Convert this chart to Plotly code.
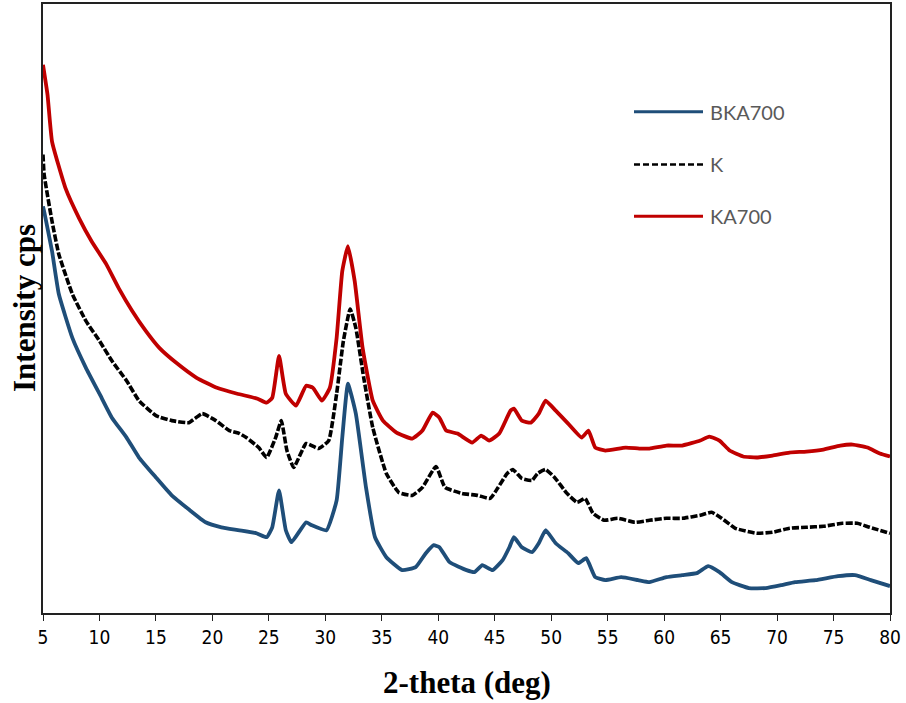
import plotly.graph_objects as go

# ---------------- data ----------------
ka700_deg = [5.0, 5.4, 5.8, 7.0, 8.2, 9.3, 10.6, 11.7, 12.9, 14.1, 15.3, 16.8, 18.6, 20.4, 22.2,
             24.0, 24.8, 25.3, 25.9, 26.5, 27.4, 28.3, 28.9, 29.7, 30.4, 31.0, 31.5, 32.0, 32.6, 33.3,
             34.2, 35.1, 36.3, 37.7, 38.6, 39.5, 40.1, 40.7, 41.7, 43.0, 43.8, 44.5, 45.4, 46.4, 46.7,
             47.4, 48.2, 48.9, 49.5, 50.4, 51.5, 52.7, 53.3, 53.9, 54.8, 56.6, 57.8, 58.7, 60.2, 61.6,
             63.2, 64.0, 64.9, 65.8, 67.0, 68.2, 69.6, 71.1, 72.6, 74.1, 75.6, 76.7, 78.0, 79.1, 80.0]
ka700_int = [550, 520, 473, 426, 396, 373, 350, 326, 303, 283, 266, 251, 236, 226, 220,
             215, 211, 216, 258, 220, 208, 228, 226, 213, 226, 276, 343, 368, 333, 266,
             213, 193, 181, 175, 183, 201, 196, 183, 180, 171, 178, 173, 180, 203, 205,
             193, 191, 200, 213, 203, 190, 176, 183, 166, 163, 166, 165, 165, 168, 168,
             173, 177, 173, 163, 157, 156, 158, 161, 162, 164, 168, 169, 166, 160, 157]

k_deg = [5.0, 5.1, 5.8, 6.4, 7.6, 8.8, 10.0, 11.1, 12.4, 13.5, 15.0, 16.4, 17.9, 19.1, 20.3,
         21.5, 22.4, 23.0, 24.1, 24.8, 25.6, 26.1, 26.6, 27.2, 28.3, 29.4, 30.3, 31.0, 31.6, 32.2,
         32.7, 33.4, 34.2, 35.4, 36.5, 37.7, 38.6, 39.8, 40.6, 42.1, 43.5, 44.6, 45.3, 46.1, 46.6,
         47.4, 48.3, 48.8, 49.5, 50.3, 51.4, 52.3, 53.0, 53.7, 54.7, 55.9, 57.4, 58.7, 60.2, 61.6,
         63.2, 64.2, 65.1, 66.3, 68.2, 69.6, 71.1, 72.6, 74.1, 75.8, 77.1, 78.2, 80.0]
k_int = [460, 440, 393, 360, 320, 293, 273, 253, 233, 213, 198, 193, 191, 200, 193,
         183, 180, 176, 166, 156, 176, 193, 163, 146, 170, 165, 173, 220, 273, 305,
         286, 236, 186, 140, 121, 118, 126, 147, 126, 120, 118, 115, 126, 140, 144,
         135, 133, 140, 144, 136, 120, 111, 115, 100, 93, 95, 91, 93, 95, 95,
         98, 101, 95, 85, 80, 81, 85, 86, 87, 90, 90, 86, 80]

bka700_deg = [5.0, 5.1, 5.8, 6.4, 7.6, 8.8, 10.0, 11.1, 12.4, 13.5, 15.0, 16.4, 17.9, 19.4, 20.8,
              22.4, 23.9, 24.8, 25.3, 25.9, 26.5, 27.0, 28.3, 28.8, 30.1, 31.0, 31.5, 32.0, 32.7, 33.6,
              34.4, 35.4, 36.8, 38.0, 38.9, 39.6, 40.1, 41.0, 42.5, 43.2, 43.9, 44.8, 45.7, 46.3, 46.7,
              47.4, 48.3, 48.9, 49.5, 50.4, 51.5, 52.4, 53.1, 53.9, 54.8, 56.2, 57.7, 58.7, 60.2, 61.6,
              62.9, 63.9, 64.9, 66.0, 67.5, 69.0, 70.4, 71.6, 73.4, 75.4, 76.9, 78.3, 80.0]
bka700_int = [408, 403, 363, 320, 276, 246, 220, 196, 176, 156, 136, 118, 104, 91, 86,
              83, 80, 76, 86, 123, 83, 71, 91, 88, 83, 113, 176, 230, 200, 126,
              76, 56, 43, 46, 60, 68, 66, 51, 43, 41, 48, 43, 53, 66, 76,
              66, 61, 70, 83, 70, 60, 50, 55, 36, 33, 36, 33, 31, 36, 38,
              40, 47, 41, 31, 25, 25, 28, 31, 33, 37, 38, 33, 27]

x_ticks = [5, 10, 15, 20, 25, 30, 35, 40, 45, 50, 55, 60, 65, 70, 75, 80]
series_names = ["BKA700", "K", "KA700"]

# ---------------- figure ----------------
BLUE = "#1F4E79"
RED = "#C00000"
BLACK = "#000000"

fig = go.Figure()
fig.add_trace(go.Scatter(x=bka700_deg, y=bka700_int, mode="lines", name=series_names[0],
                         line=dict(color=BLUE, width=3.8, shape="spline", smoothing=0.4),
                         showlegend=False))
fig.add_trace(go.Scatter(x=k_deg, y=k_int, mode="lines", name=series_names[1],
                         line=dict(color=BLACK, width=3.6, dash="7px,2px", shape="spline", smoothing=0.4),
                         showlegend=False))
fig.add_trace(go.Scatter(x=ka700_deg, y=ka700_int, mode="lines", name=series_names[2],
                         line=dict(color=RED, width=3.8, shape="spline", smoothing=0.4),
                         showlegend=False))

W, H = 906, 703
L, R, T, B = 43, 16, 2, 90
pw, ph = W - L - R, H - T - B


def px(xp):
    return (xp - L) / pw


def py(yp):
    return (H - B - yp) / ph


# manual legend (long line samples like the reference)
legend_rows = [(series_names[0], BLUE, "solid", 110),
               (series_names[1], BLACK, "dash", 163),
               (series_names[2], RED, "solid", 215)]
shapes = []
annotations = []
for name, col, dash, yp in legend_rows:
    shapes.append(dict(type="line", xref="paper", yref="paper",
                       x0=px(634), x1=px(703), y0=py(yp), y1=py(yp),
                       line=dict(color=col, width=3 if dash == "solid" else 2.6,
                                 dash="solid" if dash == "solid" else "6px,3px")))
    annotations.append(dict(text=name, xref="paper", yref="paper", x=px(708), y=py(yp),
                            xanchor="left", yanchor="middle", showarrow=False,
                            font=dict(family="Lato, Open Sans, sans-serif", size=20, color="#595959")))

annotations.append(dict(text="<b>2-theta (deg)</b>", xref="paper", yref="paper",
                        x=px(467), y=py(683), xanchor="center", yanchor="middle", showarrow=False,
                        font=dict(family="Liberation Serif, Times New Roman, serif", size=31, color="#000")))
annotations.append(dict(text="<b>Intensity cps</b>", xref="paper", yref="paper",
                        x=px(24), y=py(307), xanchor="center", yanchor="middle", showarrow=False,
                        textangle=-90,
                        font=dict(family="Liberation Serif, Times New Roman, serif", size=31, color="#000")))

fig.update_layout(
    width=W, height=H,
    margin=dict(l=L, r=R, t=T, b=B),
    paper_bgcolor="white", plot_bgcolor="white",
    shapes=shapes, annotations=annotations,
    showlegend=False,
)
fig.update_xaxes(range=[5, 80], tickvals=x_ticks, ticktext=[str(v) for v in x_ticks],
                 ticks="outside", ticklen=6, tickwidth=1.3, tickcolor="#222",
                 showline=True, linecolor="#222", linewidth=1.6, mirror=True,
                 showgrid=False, zeroline=False,
                 tickfont=dict(family="Liberation Sans Narrow, DejaVu Sans Condensed, Roboto, sans-serif",
                               size=19, color="#000"))
fig.update_yaxes(range=[0, 611], showticklabels=False, ticks="",
                 showline=True, linecolor="#222", linewidth=1.6, mirror=True,
                 showgrid=False, zeroline=False)

fig.write_html("out.html", config={"displayModeBar": False},
               post_script="document.body.style.margin='0';document.body.style.padding='0';")
